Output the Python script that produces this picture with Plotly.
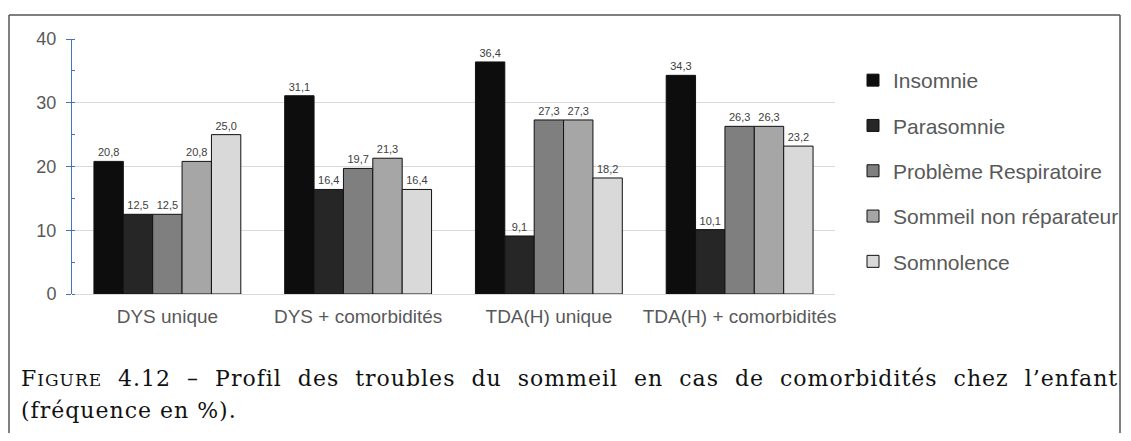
import plotly.graph_objects as go

# ── Data ───────────────────────────────────────────────────────────────────────
categories = ["DYS unique", "DYS + comorbidités", "TDA(H) unique", "TDA(H) + comorbidités"]
series_names = ["Insomnie", "Parasomnie", "Problème Respiratoire",
                "Sommeil non réparateur", "Somnolence"]
insomnie = [20.8, 31.1, 36.4, 34.3]
parasomnie = [12.5, 16.4, 9.1, 10.1]
respiratoire = [12.5, 19.7, 27.3, 26.3]
non_reparateur = [20.8, 21.3, 27.3, 26.3]
somnolence = [25.0, 16.4, 18.2, 23.2]
y_ticks = [0, 10, 20, 30, 40]

# ── Style ──────────────────────────────────────────────────────────────────────
COLORS = ["#0d0d0d", "#262626", "#7f7f7f", "#a6a6a6", "#d9d9d9"]
TEXT_CLR = "#595959"
GRID_CLR = "#d9d9d9"
OFF = 8                          # page body margin
W, H = 1131 - 2 * OFF, 441 - 2 * OFF   # keep page free of scrollbars
L, R, T, B = 72, 835, 39, 294    # plot area in page pixels


def px_x(x):
    return (x - L) / (R - L)


def px_y(y):
    return (B - y) / (B - T)


fig = go.Figure()
for name, vals, color in zip(series_names,
                             [insomnie, parasomnie, respiratoire, non_reparateur, somnolence],
                             COLORS):
    fig.add_trace(go.Bar(
        x=categories,
        y=vals,
        name=name,
        legendgroup=name,
        marker=dict(color=color, line=dict(color="#111111", width=1)),
        texttemplate="%{y:.1f}",
        textposition="outside",
        textfont=dict(color="#404040", size=11),
        cliponaxis=False,
    ))

# frame around chart + caption
frame = dict(color="#555555", width=1.5)
fig.add_shape(type="line", xref="paper", yref="paper",
              x0=px_x(9), x1=px_x(1120), y0=px_y(15), y1=px_y(15), line=frame)
fig.add_shape(type="line", xref="paper", yref="paper",
              x0=px_x(9), x1=px_x(9), y0=px_y(15), y1=px_y(445), line=frame)
fig.add_shape(type="line", xref="paper", yref="paper",
              x0=px_x(1120), x1=px_x(1120), y0=px_y(15), y1=px_y(445), line=frame)

caption_font = dict(family="DejaVu Serif, serif", size=22, color="#111111")
SP = "letter-spacing:1px"
fig.add_annotation(
    text=f'<span style="{SP}">F</span>'
         f'<span style="font-size:17px;{SP}">IGURE</span>'
         f'<span style="{SP};word-spacing:8px"> 4.12 – Profil des troubles du sommeil '
         'en cas de comorbidités chez l’enfant</span>',
    xref="paper", yref="paper", x=px_x(19), y=px_y(378),
    xanchor="left", yanchor="middle", showarrow=False, font=caption_font,
)
fig.add_annotation(
    text=f'<span style="{SP}">(fréquence en %).</span>',
    xref="paper", yref="paper", x=px_x(19), y=px_y(410),
    xanchor="left", yanchor="middle", showarrow=False, font=caption_font,
)

fig.update_layout(
    width=W, height=H,
    margin=dict(l=L - OFF, r=W - (R - OFF), t=T - OFF, b=H - (B - OFF), pad=0,
                autoexpand=False),
    paper_bgcolor="white",
    plot_bgcolor="white",
    font=dict(family="Liberation Sans, Arial, sans-serif", color=TEXT_CLR, size=17),
    separators=", ",
    barmode="group",
    bargap=0.23,
    bargroupgap=0,
    xaxis=dict(
        tickfont=dict(size=19, color=TEXT_CLR),
        showline=False, ticks="", showgrid=False,
        ticklabelstandoff=9,
    ),
    yaxis=dict(
        range=[0, 40],
        tickvals=y_ticks,
        tickfont=dict(size=18, color=TEXT_CLR),
        showline=True, linecolor="#4472c4", linewidth=1,
        ticks="outside", ticklen=5, tickcolor="#4472c4",
        ticklabelstandoff=6,
        minor=dict(dtick=5, ticks="inside", ticklen=3, tickcolor="#4472c4", showgrid=False),
        showgrid=True, gridcolor=GRID_CLR, gridwidth=1,
        zeroline=True, zerolinecolor=GRID_CLR, zerolinewidth=1,
    ),
    legend=dict(
        x=px_x(853), y=px_y(60), xanchor="left", yanchor="top",
        font=dict(size=21, color=TEXT_CLR),
        bgcolor="rgba(0,0,0,0)",
        tracegroupgap=15,
    ),
)

fig.write_html("out.html")
